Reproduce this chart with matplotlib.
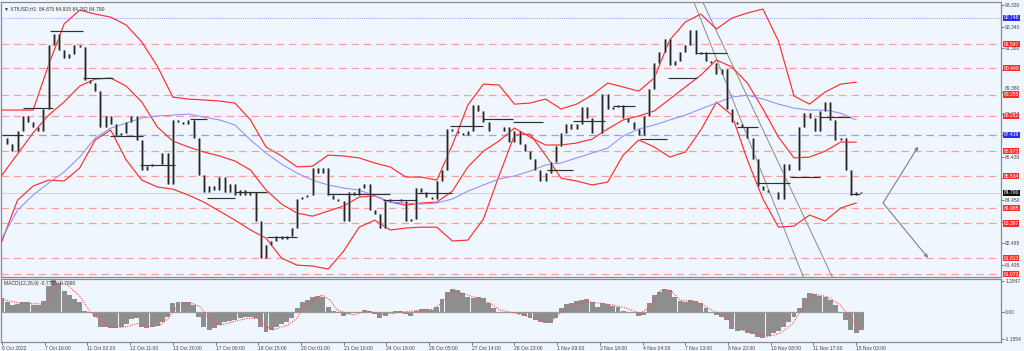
import matplotlib
matplotlib.use('Agg')
import matplotlib.pyplot as plt
from matplotlib.transforms import blended_transform_factory, offset_copy

plt.rcParams['font.family'] = ['Liberation Sans', 'DejaVu Sans']

# ---------------- data (one bar = 4 hours) ----------------
closes = [87.3, 87.0, 86.7, 87.6, 88.3, 88.0, 87.8, 87.6, 88.6, 91.5,
          92.0, 91.3, 90.9, 91.1, 91.5, 91.4, 89.9, 89.8, 89.4, 87.8,
          88.3, 87.9, 87.4, 87.5, 88.0, 88.3, 87.2, 85.8, 86.0, 86.1,
          86.1, 86.6, 85.2, 88.1, 88.0, 87.9, 88.1, 87.3, 85.6, 84.8,
          85.1, 84.9, 85.5, 84.8, 85.2, 84.7, 84.9, 84.7, 84.8, 83.5,
          81.8, 82.4, 82.6, 82.8, 82.7, 82.8, 83.2, 84.5, 84.6, 84.7,
          85.9, 85.7, 85.9, 84.7, 84.5, 84.4, 83.5, 84.8, 84.7, 85.0,
          85.2, 84.0, 83.8, 83.2, 84.4, 84.5, 84.5, 84.4, 83.5, 83.6,
          85.0, 84.8, 84.6, 84.5, 85.3, 85.8, 87.7, 87.6, 87.5, 87.4,
          87.6, 88.8, 88.5, 88.0, 87.6, 87.6, 87.6, 87.8, 87.1, 87.6,
          87.0, 86.7, 86.3, 85.8, 85.3, 85.7, 86.2, 86.9, 87.5, 87.9,
          87.7, 87.9, 88.7, 88.2, 87.5, 87.5, 89.3, 88.6, 88.7, 88.8,
          88.2, 88.0, 87.7, 87.4, 88.3, 89.5, 90.7, 91.2, 91.8, 90.6,
          90.8, 91.2, 91.5, 92.2, 91.1, 91.2, 90.8, 90.7, 90.2, 90.4,
          88.6, 88.0, 87.9, 87.8, 87.3, 86.3, 85.1, 84.9, 84.8, 84.8,
          84.5, 86.1, 85.8, 85.8, 87.8, 88.4, 88.2, 87.6, 88.5, 88.9,
          88.1, 87.2, 87.3, 85.8, 84.7, 84.8, 84.79]

# band / MA values every 3 bars
band_step = 3
bb_up = [88.55, 88.55, 88.55, 90.60, 92.47, 93.10, 92.92, 92.78, 92.42, 91.65,
         90.55, 89.14, 89.05, 89.01, 88.96, 88.87, 88.10, 86.87, 86.46, 85.96,
         86.00, 86.50, 86.46, 86.37, 86.14, 85.96, 85.50, 85.50, 85.36, 86.96,
         88.78, 89.73, 89.69, 88.82, 88.87, 89.05, 88.60, 88.82, 89.23, 89.78,
         89.60, 89.41, 90.01, 91.74, 92.56, 92.92, 92.24, 92.74, 92.97, 93.15,
         91.69, 89.19, 88.82, 89.37, 89.73, 89.82]
bb_mid = [85.59, 86.55, 87.51, 88.32, 88.92, 89.64, 89.96, 90.01, 89.64, 88.92,
          87.78, 87.14, 86.87, 86.64, 86.46, 86.23, 85.82, 84.91, 84.27, 83.86,
          83.72, 83.95, 84.18, 84.59, 84.64, 84.36, 84.22, 84.32, 84.36, 84.86,
          85.96, 86.68, 87.14, 87.73, 87.32, 86.96, 86.96, 87.05, 87.23, 87.69,
          88.10, 88.28, 88.51, 89.05, 89.60, 90.14, 90.83, 90.51, 89.78, 88.60,
          87.32, 86.37, 86.41, 86.68, 87.09, 87.09]
bb_lo = [82.59, 84.45, 85.09, 85.36, 85.32, 85.91, 87.19, 87.64, 86.28, 85.36,
         85.05, 84.95, 84.68, 84.36, 83.95, 83.54, 83.09, 82.72, 81.81, 81.49,
         81.45, 81.31, 82.13, 83.22, 83.54, 83.09, 83.18, 83.22, 83.22, 82.59,
         82.63, 83.59, 85.55, 87.41, 87.46, 86.50, 85.45, 85.32, 85.14, 85.27,
         86.50, 87.19, 86.87, 86.41, 86.64, 87.64, 88.91, 88.32, 86.28, 84.50,
         83.22, 83.27, 83.77, 83.50, 84.09, 84.32]
ma_blue = [82.72, 83.99, 84.68, 85.23, 85.73, 86.41, 87.28, 87.73, 87.96, 88.19,
           88.28, 88.32, 88.37, 88.23, 88.10, 87.87, 87.19, 86.59, 86.09, 85.68,
           85.36, 85.14, 85.00, 84.91, 84.64, 84.36, 84.32, 84.27, 84.32, 84.50,
           84.86, 85.14, 85.41, 85.55, 85.77, 86.05, 86.14, 86.37, 86.59, 86.82,
           87.37, 87.69, 87.87, 88.10, 88.32, 88.60, 88.87, 89.14, 89.23, 89.05,
           88.82, 88.64, 88.55, 88.55, 88.41, 88.10]

macd_hist = [0.56, 0.42, 0.29, 0.33, 0.40, 0.40, 0.29, 0.26, 0.46, 1.07,
             1.32, 1.18, 0.88, 0.68, 0.51, 0.39, 0.04, -0.07, -0.24, -0.63,
             -0.65, -0.68, -0.68, -0.64, -0.50, -0.29, -0.28, -0.65, -0.69, -0.65,
             -0.60, -0.42, -0.24, 0.35, 0.40, 0.42, 0.40, 0.28, -0.21, -0.63,
             -0.74, -0.68, -0.56, -0.44, -0.38, -0.33, -0.28, -0.22, -0.21, -0.28,
             -0.63, -0.83, -0.75, -0.64, -0.53, -0.43, -0.28, 0.17, 0.39, 0.49,
             0.60, 0.67, 0.63, 0.21, 0.04, -0.07, -0.18, -0.10, -0.06, 0.00,
             0.08, 0.04, -0.11, -0.26, -0.18, -0.07, 0.01, 0.04, -0.10, -0.17,
             0.01, 0.10, 0.10, 0.07, 0.21, 0.51, 0.83, 0.94, 0.90, 0.76,
             0.61, 0.56, 0.63, 0.56, 0.35, 0.14, -0.01, -0.04, -0.07, -0.06,
             -0.10, -0.19, -0.28, -0.36, -0.42, -0.46, -0.46, -0.26, 0.15, 0.33,
             0.38, 0.43, 0.47, 0.51, 0.42, 0.18, 0.35, 0.31, 0.25, 0.21,
             0.04, -0.01, -0.07, -0.17, -0.14, 0.35, 0.69, 0.83, 0.93, 0.90,
             0.63, 0.46, 0.42, 0.47, 0.46, 0.35, 0.17, -0.01, -0.13, -0.21,
             -0.35, -0.72, -0.81, -0.78, -0.88, -0.94, -1.07, -1.11, -1.03, -0.90,
             -0.79, -0.63, -0.42, -0.21, 0.14, 0.56, 0.76, 0.74, 0.67, 0.61,
             0.49, 0.28, -0.01, -0.35, -0.74, -0.90, -0.78]
signal_bar = [0, 3.5, 7.9, 9.3, 10.8, 12.6, 15.1, 17.0, 18.9, 21.4, 24.1, 26.1, 28.0,
              30.5, 32.1, 33.8, 36.3, 38.3, 40.2, 42.1, 44.6, 47.3, 49.3, 51.2, 52.4,
              55.1, 57.0, 58.2, 60.1, 61.8, 63.4, 64.7, 66.7, 67.8, 70.5, 73.0, 75.5,
              78.2, 80.8, 83.3, 85.2, 87.1, 89.1, 91.8, 94.3, 96.2, 98.7, 101.4, 103.9,
              105.9, 107.8, 110.3, 113.0, 115.5, 118.0, 120.7, 123.3, 125.2, 127.1,
              129.1, 131.0, 134.9, 137.4, 140.1, 142.6, 145.1, 147.8, 150.3, 152.8,
              154.8, 156.7, 159.4, 161.9, 163.8, 165.8]
signal_val = [0.51, 0.35, 0.32, 0.56, 1.25, 1.11, 0.63, 0.0, -0.35, -0.65, -0.63, -0.49, -0.63,
              -0.56, -0.28, 0.21, 0.39, 0.21, -0.35, -0.56, -0.42, -0.28, -0.28, -0.63, -0.76,
              -0.56, -0.28, 0.21, 0.49, 0.69, 0.49, 0.07, -0.07, -0.14, 0.03, -0.10, -0.07,
              0.0, 0.07, 0.10, 0.42, 0.88, 0.76, 0.56, 0.35, 0.07, -0.04, -0.18, -0.35,
              -0.42, -0.07, 0.28, 0.42, 0.35, 0.28, 0.14, -0.07, 0.21, 0.88,
              0.90, 0.49, 0.35, 0.04, -0.28, -0.76, -0.83, -1.04, -0.90, -0.49,
              0.21, 0.74, 0.63, 0.28, -0.21, -0.77]

# horizontal level segments (start bar, end bar, price)
seg_start = [0, 4.1, 9.3, 15.6, 20.9, 26.7, 36.3, 39.6, 45.0, 51.2, 62.8, 73.6, 80.2,
             86.6, 92.9, 98.7, 105.3, 110.3, 118.0, 123.3, 128.7, 134.3, 142.0, 145.9,
             152.2, 158.0, 163.8]
seg_end = [4.1, 9.9, 15.6, 21.4, 27.2, 33.4, 39.6, 45.0, 51.2, 57.0, 75.0, 80.2, 86.9,
           92.9, 98.7, 104.5, 110.3, 116.5, 122.3, 128.5, 134.3, 140.1, 146.1, 152.2,
           158.0, 163.8, 165.8]
seg_price = [87.41, 88.64, 92.13, 90.00, 87.37, 86.05, 88.14, 84.55, 84.82, 82.77, 84.73,
             84.45, 84.77, 87.82, 88.14, 88.00, 85.82, 88.05, 88.73, 87.23, 90.00, 91.15,
             87.78, 85.23, 85.50, 88.23, 84.73]

red_levels = [91.547, 90.449, 89.255, 88.282, 86.673, 85.534, 84.085, 83.387, 81.813, 81.073]
blue_level = 87.419
top_level = 92.748
last_price = 84.790

channel_bar = [(133.5, 154.8), (135.2, 160.4)]
channel_price = [(93.56, 80.95), (93.56, 80.95)]
arrow_start = (170.2, 84.32)
arrow_ends = [(177.0, 86.89), (178.9, 81.82)]

price_ticks = [93.330, 92.340, 91.360, 90.370, 89.380, 88.390, 87.400, 86.430,
               85.440, 84.450, 83.460, 82.485, 81.495]
hidden_ticks = [90.370, 87.400, 85.440]   # covered by level boxes in the reference
raised_ticks = [89.380]                   # label drawn just above the neighbouring box
time_labels = ["6 Oct 2022", "7 Oct 16:00", "11 Oct 02:00", "12 Oct 11:00", "13 Oct 20:00",
               "17 Oct 06:00", "18 Oct 15:00", "20 Oct 01:00", "21 Oct 10:00",
               "24 Oct 19:00", "26 Oct 05:00", "27 Oct 14:00", "28 Oct 23:00",
               "1 Nov 09:00", "2 Nov 18:00", "4 Nov 04:00", "7 Nov 13:00",
               "8 Nov 22:00", "10 Nov 08:00", "11 Nov 17:00", "15 Nov 03:00"]
label_every = 8.25  # bars between time labels (33 hours)

title = "XTIUSD,H1  84.875 84.915 84.762 84.790"
macd_title = "MACD(12,26,9) -0.7755 -0.7660"

# ---------------- figure ----------------
BG = '#EFF6FD'
FS = 3.6
fig = plt.figure(figsize=(10.24, 3.51), dpi=100)
fig.patch.set_facecolor(BG)
ax = fig.add_axes([0.001, 0.2108, 0.9766, 0.7835])
axm = fig.add_axes([0.001, 0.0256, 0.9766, 0.1795], sharex=ax)
for a in (ax, axm):
    a.set_facecolor(BG)
    for s in a.spines.values():
        s.set_color('#8a8a8a')
        s.set_linewidth(0.9)

n = len(closes)
bars = list(range(n))

# levels
for lv in red_levels:
    ax.axhline(lv, color='#FF9C9C', lw=0.9, ls=(0, (6, 4)), zorder=1)
ax.axhline(blue_level, color='#9A9AFF', lw=0.9, ls=(0, (6, 4)), zorder=1)
ax.axhline(top_level, color='#7C7CFF', lw=0.6, ls=(0, (1, 1.5)), zorder=1)
ax.axhline(last_price, color='#D0D4DA', lw=0.8, zorder=1)

# bands and MA
bk = [i * band_step for i in range(len(bb_up))]
for series in (bb_up, bb_mid, bb_lo):
    ax.plot(bk, series, color='#FF2E2E', lw=0.85, zorder=3)
ax.plot(bk, ma_blue, color='#8F8FFF', lw=0.75, zorder=3)

# price bars (open = previous close)
opens = [closes[0]] + closes[:-1]
lows = [min(o, c) for o, c in zip(opens, closes)]
highs = [max(o, c) for o, c in zip(opens, closes)]
ax.vlines(bars, lows, highs, color='#9A9A9A', lw=1.9, zorder=4)
ax.vlines(bars, lows, highs, color='#262626', lw=0.85, zorder=5)

# level segments
ax.hlines(seg_price, seg_start, seg_end, color='#303030', lw=0.85, zorder=6)

# channel lines
for xs, ys in zip(channel_bar, channel_price):
    ax.plot(xs, ys, color='#8A8A8A', lw=0.7, zorder=2)

# arrows
for end in arrow_ends:
    ax.annotate('', xy=end, xytext=arrow_start,
                arrowprops=dict(arrowstyle='-|>', color='#808080', lw=0.8,
                                mutation_scale=5, shrinkA=0, shrinkB=0))

ax.set_xlim(-0.19, 193.0)
ax.set_ylim(80.95, 93.47)

# right price axis
ax.yaxis.tick_right()
ax.set_yticks(price_ticks)
ax.set_yticklabels(['' if (t in hidden_ticks or t in raised_ticks) else f'{t:.3f}'
                    for t in price_ticks])
ax.tick_params(axis='y', labelsize=FS, colors='#444444', length=2, width=0.5, pad=1)
ax.tick_params(axis='x', bottom=False, labelbottom=False)

tr = blended_transform_factory(ax.transAxes, ax.transData)
for t in raised_ticks:
    ax.text(1.0035, t, f'{t:.3f}', transform=offset_copy(tr, fig=fig, y=2.2, units='points'),
            fontsize=FS, color='#444444', va='center', ha='left', clip_on=False)

boxes = [(top_level, '#2B2BF0')] + [(lv, '#FF2B2B') for lv in red_levels] + \
        [(blue_level, '#2B2BF0'), (last_price, '#111111')]
for lv, col in boxes:
    ax.text(1.0025, lv, f'{lv:.3f}', transform=tr, fontsize=FS, color='white',
            va='center', ha='left', zorder=10, clip_on=False,
            bbox=dict(boxstyle='square,pad=0.12', fc=col, ec='none'))

ax.text(0.003, 0.985, '\u25BC ' + title, transform=ax.transAxes, fontsize=FS,
        color='#333333', va='top', ha='left')

# MACD panel
axm.bar(bars, macd_hist, width=0.95, color='#8E8E8E', edgecolor='none', zorder=2)
axm.hlines(0, bars[0], bars[-1], color='#9A9A9A', lw=0.9, zorder=2)
axm.plot(signal_bar, signal_val, color='#FF4A4A', lw=0.8, ls=(0, (1, 1.2)), zorder=3)
axm.set_ylim(-1.26, 1.36)
axm.yaxis.tick_right()
axm.set_yticks([1.2847, 0.0, -1.1554])
axm.set_yticklabels(['1.2847', '0.00', '-1.1554'])
axm.tick_params(axis='y', labelsize=FS, colors='#444444', length=2, width=0.5, pad=1)
axm.text(0.003, 0.97, macd_title, transform=axm.transAxes, fontsize=FS,
         color='#333333', va='top', ha='left', zorder=5)

tick_pos = [i * label_every for i in range(len(time_labels))]
axm.set_xticks(tick_pos)
axm.set_xticklabels(time_labels)
axm.tick_params(axis='x', labelsize=FS, colors='#444444', length=2, width=0.5, pad=1)
for lab in axm.get_xticklabels():
    lab.set_horizontalalignment('left')

fig.savefig('out.png', dpi=100, facecolor=BG)
